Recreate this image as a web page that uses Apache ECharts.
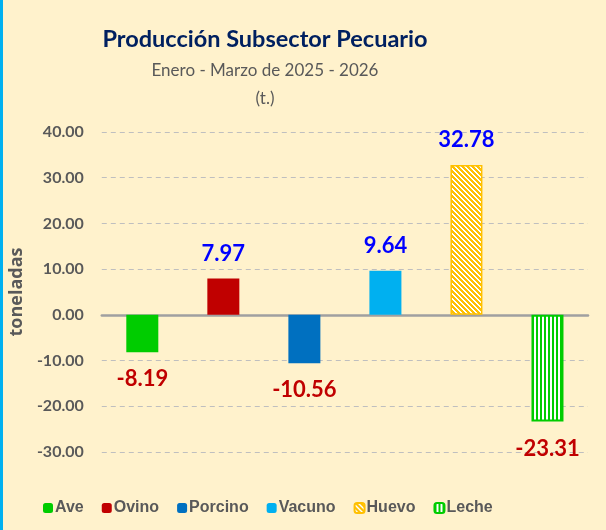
<!DOCTYPE html>
<html>
<head>
<meta charset="utf-8">
<script src="https://cdn.jsdelivr.net/npm/echarts@6/dist/echarts.min.js"></script>
<style>
  html, body { margin: 0; padding: 0; background: #fff2cc; }
  #wrap { position: relative; width: 606px; height: 530px; }
  #chart { width: 606px; height: 530px; }
  #edge { position: absolute; left: 0; top: 0; width: 3px; height: 530px; background: #00b0f0; }
</style>
</head>
<body>
<div id="wrap">
  <div id="chart"></div>
  <div id="edge"></div>
</div>
<script>
const categories = ['Ave', 'Ovino', 'Porcino', 'Vacuno', 'Huevo', 'Leche']
const values = [-8.19, 7.97, -10.56, 9.64, 32.78, -23.31]
const yTicks = { min: -30, max: 40, interval: 10 }

const makePattern = (fg, size, test) => {
  const c = document.createElement('canvas')
  c.width = size
  c.height = size
  const ctx = c.getContext('2d')
  ctx.fillStyle = '#ffffff'
  ctx.fillRect(0, 0, size, size)
  ctx.fillStyle = fg
  for (let x = 0; x < size; x++) {
    for (let y = 0; y < size; y++) {
      if (test(x, y)) ctx.fillRect(x, y, 1, 1)
    }
  }
  return { image: c, repeat: 'repeat' }
}

const styles = [
  { color: '#00cc00' },
  { color: '#c00000' },
  { color: '#0070c0' },
  { color: '#00b0f0' },
  { color: makePattern('#ffc000', 5, (x, y) => ((x - y + 10) % 5) < 3), borderColor: '#ffc000', borderWidth: 1.5 },
  { color: makePattern('#00cc00', 4, (x) => x < 2), borderColor: '#00cc00', borderWidth: 2 }
]

const chart = echarts.init(document.getElementById('chart'))

// title texts are centred a bit left of the canvas middle, like the original
const option = {
  backgroundColor: '#fff2cc',
  animation: false,
  title: [
    {
      text: 'Producción Subsector Pecuario',
      left: 260,
      top: 22,
      textAlign: 'center',
      textStyle: { color: '#002060', fontSize: 23.5, fontWeight: 'bold', fontFamily: 'Lato' }
    },
    {
      text: 'Enero - Marzo de 2025 - 2026',
      left: 260,
      top: 57,
      textAlign: 'center',
      textStyle: { color: '#595959', fontSize: 17, fontWeight: 'normal', fontFamily: 'Lato' }
    },
    {
      text: '(t.)',
      left: 260,
      top: 85,
      textAlign: 'center',
      textStyle: { color: '#595959', fontSize: 17, fontWeight: 'normal', fontFamily: 'Lato' }
    }
  ],
  legend: {
    left: 38,
    top: 495,
    itemWidth: 10,
    itemHeight: 10,
    itemGap: 18,
    textStyle: { color: '#595959', fontSize: 16, fontWeight: 'bold', fontFamily: 'Liberation Sans', padding: [0, 0, 0, -3] },
    data: categories
  },
  grid: {
    left: 100,
    right: 18,
    top: 132,
    bottom: 78
  },
  xAxis: {
    type: 'category',
    data: categories,
    axisLine: { onZero: true, lineStyle: { color: '#a0a0a0', width: 2.5 } },
    axisTick: { show: false },
    axisLabel: { show: false }
  },
  yAxis: {
    type: 'value',
    min: yTicks.min,
    max: yTicks.max,
    interval: yTicks.interval,
    name: 'toneladas',
    nameLocation: 'middle',
    nameGap: 71,
    nameTextStyle: { color: '#595959', fontSize: 18, fontWeight: 'bold', fontFamily: 'Open Sans' },
    axisLine: { show: false },
    axisTick: { show: false },
    axisLabel: {
      color: '#595959',
      fontSize: 16,
      fontWeight: 'bold',
      fontFamily: 'Lato',
      margin: 18,
      formatter: (v) => v.toFixed(2)
    },
    splitLine: { lineStyle: { color: '#bfbfbf', type: [5, 4], width: 1 } }
  },
  series: categories.map((name, i) => ({
    name,
    type: 'bar',
    stack: 'total',
    barWidth: 32,
    itemStyle: styles[i],
    label: {
      show: true,
      position: values[i] >= 0 ? 'top' : 'bottom',
      distance: values[i] >= 0 ? 14 : 16,
      color: values[i] >= 0 ? '#0000ff' : '#c00000',
      fontSize: 22,
      fontWeight: 'bold',
      fontFamily: 'Lato',
      formatter: (p) => p.value.toFixed(2)
    },
    data: categories.map((c, j) => (j === i ? values[i] : '-'))
  }))
}

chart.setOption(option)
</script>
</body>
</html>
